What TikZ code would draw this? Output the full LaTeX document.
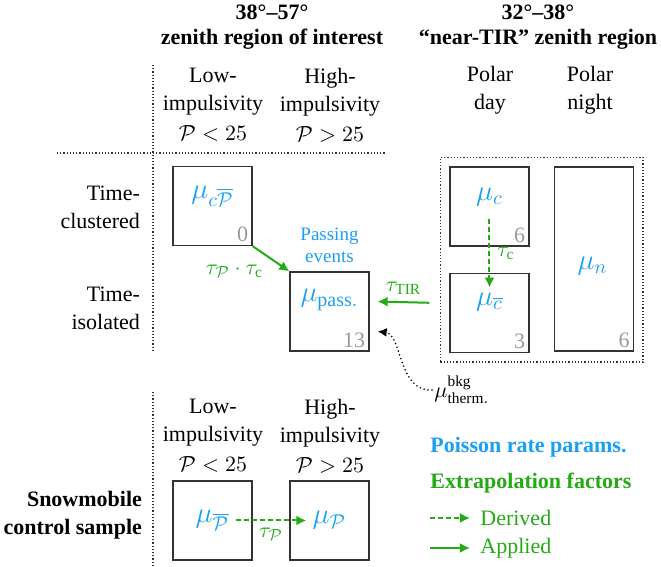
\documentclass[tikz,border=0pt]{standalone}
\usepackage{fontspec}
\setmainfont{Liberation Serif}
\usepackage{tikz}
\usetikzlibrary{arrows.meta,positioning,fit}

\definecolor{ratecol}{RGB}{25,160,245}
\definecolor{factcol}{RGB}{35,170,20}
\newcommand{\sizeeleven}{\fontsize{11}{14}\selectfont}

\begin{document}
\begin{tikzpicture}[
    x=0.5pt, y=-0.5pt,
    font=\sizeeleven,
    box/.style={draw=black!80, line width=0.65pt, minimum width=39.5pt, minimum height=39.5pt, inner sep=0pt},
    tallbox/.style={box, minimum height=92pt},
    rate/.style={text=ratecol, font=\Large, inner sep=3pt},
    nevents/.style={text=black!40, anchor=south east, inner sep=2pt},
    head/.style={align=center},
    heading/.style={align=center, font=\fontsize{11}{12.5}\selectfont\bfseries},
    rowlabel/.style={align=right, anchor=east},
    legend/.style={anchor=west, inner sep=0pt},
    sep/.style={black!80, line width=0.6pt, dash pattern=on 0.6pt off 1pt},
    applied/.style={-{Latex[length=5pt,width=5pt]}, line width=1pt, factcol},
    derived/.style={applied, dash pattern=on 2.5pt off 1.5pt},
    fact/.style={text=factcol},
    therm/.style={-{Latex[length=4.5pt,width=4.5pt]}, line width=0.9pt, line cap=round, dash pattern=on 0pt off 2pt}
  ]
    \useasboundingbox (0,0) rectangle (661,567);

    % zenith ranges
    \node[heading] (roi) at (272,27) {38°–57°\\zenith region of interest};
    \node[heading] (tir) at (538,27) {32°–38°\\“near-TIR” zenith region};

    % column and row headings
    \node[head] (lo) at (213,105) {Low-\\impulsivity\\[1pt]$\mathcal{P}<25$};
    \node[head] (hi) at (330,105) {High-\\impulsivity\\[1pt]$\mathcal{P}>25$};
    \node[head] (day) at (490,90) {Polar\\day};
    \node[head] (night) at (590,90) {Polar\\night};
    \node[rowlabel] (clus) at (147,207) {Time-\\clustered};
    \node[rowlabel] (iso) at (147,308) {Time-\\isolated};

    \draw[sep] (153,65) -- (153,350);
    \draw[sep] (57,153) -- (385,153);

    % region of interest
    \node[box] (cp) at (212.5,206) {};
    \node[rate] (cpl) at (212.5,196) {$\mu_{c\overline{\mathcal{P}}}$};
    \node[nevents] at (cp.south east) {0};
    \node[box] (passev) at (329.5,311.5) {};
    \node[rate] (passl) at (329.5,300) {$\mu_{\mathrm{pass.}}$};
    \node[nevents] at (passev.south east) {13};
    \node[align=center, text=ratecol, font=\fontsize{9.5}{11}\selectfont, above=1pt of passev] (passing) {Passing\\events};

    % near-TIR region
    \node[box] (pc) at (489.5,206.5) {};
    \node[box, below=13pt of pc] (pcb) {};
    \node[tallbox, anchor=north west] (pn) at ([xshift=12pt]pc.north east) {};
    \node[rate] (pcl) at (489.5,197) {$\mu_{c}$};
    \node[rate] (pcbl) at (489.5,302) {$\mu_{\overline{c}}$};
    \node[rate] (pnl) at (592.5,266) {$\mu_{n}$};
    \node[nevents] at (pc.south east) {6};
    \node[nevents] at (pcb.south east) {3};
    \node[nevents] at (pn.south east) {6};
    \node[sep, draw, fit=(pc)(pcb)(pn), inner sep=4.5pt] (polar) {};

    \draw[applied] (cp.south east) -- (passev.north west)
      node[midway, below left, fact, inner sep=1pt, xshift=-2.5pt, yshift=-1.5pt] {$\tau_{\mathcal{P}}\cdot\tau_{\mathrm{c}}$};
    \draw[derived] ([yshift=14pt]pc.south) -- ([yshift=-7.5pt]pcb.north)
      node[midway, right, fact] {$\tau_{\mathrm{c}}$};
    \draw[applied] ([shift={(-10pt,5pt)}]pcb.west) -- ([shift={(4pt,5pt)}]passev.east)
      node[midway, above, fact] {$\tau_{\mathrm{TIR}}$};

    \node[anchor=west, inner sep=1pt] (bkg) at (432,390) {$\mu^{\mathrm{bkg}}_{\mathrm{therm.}}$};
    \draw[therm] (bkg.west) .. controls (398,392) and (402,334) .. ([shift={(4pt,-10pt)}]passev.east);

    % control sample
    \draw[sep] (153,392) -- (153,565);
    \node[head] (lo2) at (213,436) {Low-\\impulsivity\\[1pt]$\mathcal{P}<25$};
    \node[head] (hi2) at (330,436) {High-\\impulsivity\\[1pt]$\mathcal{P}>25$};
    \node[rowlabel, font=\sizeeleven\bfseries] (snow) at (149,515) {Snowmobile\\control sample};
    \node[box] (lp) at (212.5,520.5) {};
    \node[box] (hp) at (329.5,520.5) {};
    \node[rate] (lpl) at (lp.center) {$\mu_{\overline{\mathcal{P}}}$};
    \node[rate] (hpl) at (hp.center) {$\mu_{\mathcal{P}}$};
    \draw[derived] (lpl) -- (hpl) node[midway, below, fact] {$\tau_{\mathcal{P}}$};

    % legend
    \node[legend, text=ratecol, font=\sizeeleven\bfseries] (lgrate) at (430,447) {Poisson rate params.};
    \node[legend, text=factcol, font=\sizeeleven\bfseries] (lgfact) at (430,483) {Extrapolation factors};
    \coordinate (dstart) at (430,518);
    \node[legend, text=factcol] (dtext) at (480,518) {Derived};
    \draw[derived] (dstart) -- ([xshift=-5pt]dtext.west);
    \coordinate (astart) at (430,548);
    \node[legend, text=factcol] (atext) at (480,548) {Applied};
    \draw[applied] (astart) -- ([xshift=-5pt]atext.west);
  \end{tikzpicture}
\end{document}
